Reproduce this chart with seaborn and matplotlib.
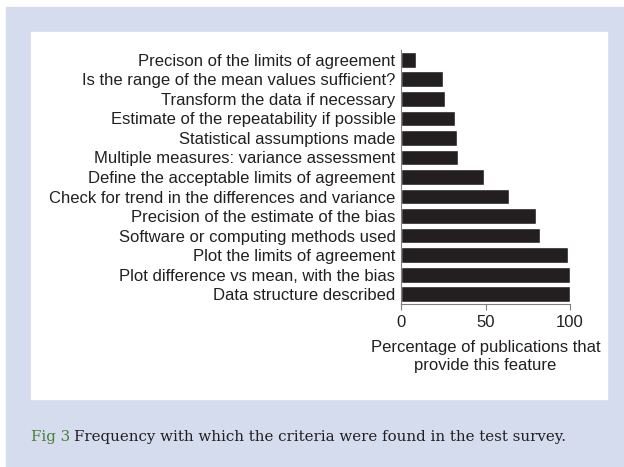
import seaborn as sns
import matplotlib.pyplot as plt
import matplotlib.patches as mpatches
import pandas as pd

sns.set_style("ticks")
plt.rcParams["font.family"] = ["Liberation Sans", "DejaVu Sans"]

# criteria and percentage of publications providing each one
criteria = [
    "Precison of the limits of agreement",
    "Is the range of the mean values sufficient?",
    "Transform the data if necessary",
    "Estimate of the repeatability if possible",
    "Statistical assumptions made",
    "Multiple measures: variance assessment",
    "Define the acceptable limits of agreement",
    "Check for trend in the differences and variance",
    "Precision of the estimate of the bias",
    "Software or computing methods used",
    "Plot the limits of agreement",
    "Plot difference vs mean, with the bias",
    "Data structure described",
]
percent = [9, 25, 26, 32, 33, 34, 49, 64, 80, 82, 99, 100, 100]

df = pd.DataFrame({"Criterion": criteria, "Percent": percent})

bg = "#d4dcee"
ink = "#231f20"

fig = plt.figure(figsize=(6.24, 4.67), dpi=100)
fig.patch.set_facecolor("white")

# lavender frame and white inner panel
fig.patches.append(mpatches.Rectangle((6 / 624, 0), 618 / 624, 460 / 467,
                                      transform=fig.transFigure, color=bg, zorder=-2))
fig.patches.append(mpatches.Rectangle((31 / 624, 68 / 467), 576 / 624, 367 / 467,
                                      transform=fig.transFigure, color="white", zorder=-1))

ax = fig.add_axes([401 / 624, 1 - 304 / 467, 169 / 624, 254 / 467])
ax.patch.set_alpha(0)
sns.barplot(data=df, x="Percent", y="Criterion", orient="h", color=ink,
            saturation=1, width=0.8, ax=ax)

ax.set_xlim(0, 100)
ax.set_xticks([0, 50, 100])
ax.set_ylabel("")
ax.set_xlabel("Percentage of publications that\nprovide this feature",
              fontsize=12, color=ink, labelpad=7, linespacing=1.3)
ax.tick_params(axis="y", length=0, pad=4, labelsize=12, labelcolor=ink)
ax.tick_params(axis="x", length=4, width=0.8, color="#808080", labelsize=12,
               labelcolor=ink, pad=4)
sns.despine(ax=ax, top=True, right=True)
for side in ["left", "bottom"]:
    ax.spines[side].set_color("#808080")
    ax.spines[side].set_linewidth(0.8)

# caption
fig_lbl = fig.text(31 / 624, 1 - 444 / 467, "Fig 3", family="DejaVu Serif",
                   fontsize=10.8, color="#4b7f34", va="bottom")
plt.annotate("Frequency with which the criteria were found in the test survey.",
             xy=(1, 0), xycoords=fig_lbl, xytext=(3, 0), textcoords="offset points",
             family="DejaVu Serif", fontsize=10.8, color=ink, va="bottom",
             annotation_clip=False)

fig.savefig("out.png", dpi=100)
